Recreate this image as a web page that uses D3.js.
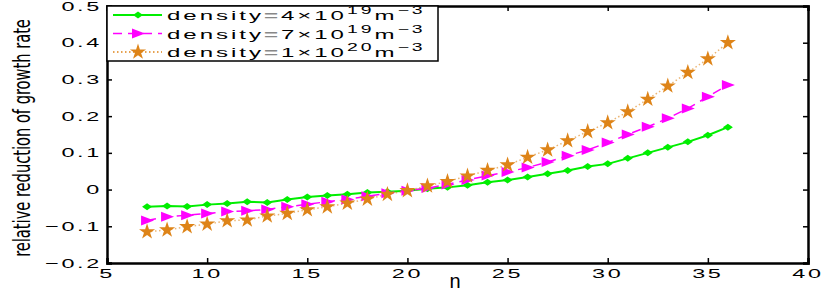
<!DOCTYPE html>
<html>
<head>
<meta charset="utf-8">
<script src="https://cdnjs.cloudflare.com/ajax/libs/d3/7.8.5/d3.min.js"></script>
<style>
	body { margin: 0; background: #fff; }
	svg text { font-family: "Liberation Sans", Arial, sans-serif; }
</style>
</head>
<body>
<svg id="svg_chart" width="831" height="291"></svg>
<script>
// n values (mode number)
var arr_n = [7, 8, 9, 10, 11, 12, 13, 14, 15, 16, 17, 18, 19, 20, 21,
	22, 23, 24, 25, 26, 27, 28, 29, 30, 31, 32, 33, 34, 35, 36];

// density = 4e19
var arr_d4e19 = [-0.047, -0.045, -0.046, -0.041, -0.038, -0.033, -0.035, -0.027,
	-0.020, -0.016, -0.013, -0.008, -0.006, -0.003, 0.002, 0.006,
	0.012, 0.020, 0.026, 0.034, 0.043, 0.052, 0.063, 0.070,
	0.085, 0.100, 0.115, 0.130, 0.148, 0.170];

// density = 7e19
var arr_d7e19 = [-0.084, -0.074, -0.070, -0.065, -0.060, -0.058, -0.054, -0.047,
	-0.040, -0.033, -0.027, -0.018, -0.010, -0.003, 0.004, 0.014,
	0.026, 0.038, 0.048, 0.060, 0.075, 0.092, 0.108, 0.128,
	0.150, 0.171, 0.194, 0.221, 0.253, 0.285];

// density = 1e20
var arr_d1e20 = [-0.115, -0.110, -0.101, -0.094, -0.085, -0.083, -0.072, -0.065,
	-0.055, -0.047, -0.037, -0.026, -0.013, -0.003, 0.010, 0.022,
	0.037, 0.052, 0.067, 0.088, 0.108, 0.133, 0.158, 0.182,
	0.212, 0.246, 0.282, 0.319, 0.356, 0.400];

var arr_x_ticks = [5, 10, 15, 20, 25, 30, 35, 40];
var arr_y_ticks = [-0.2, -0.1, 0, 0.1, 0.2, 0.3, 0.4, 0.5];

var arr_legend_mant = ["4", "7", "1"];
var arr_legend_exp = ["19", "19", "20"];


var margin = {top: 6, right: 23, bottom: 28, left: 107};
var width = 831 - margin.left - margin.right;
var height = 291 - margin.top - margin.bottom;

var x_scale = d3.scaleLinear().domain([5, 40]).range([0, width]);
var y_scale = d3.scaleLinear().domain([-0.2, 0.5]).range([height, 0]);

var svg = d3.select("svg#svg_chart");

var g = svg.append("g")
	.attr("transform", "translate(" + margin.left + "," + margin.top + ")");

// stretched label text, like the original export
function fn_wide_text(sel, sx) {
	sel.attr("transform", function() {
		var t = d3.select(this);
		return "translate(" + t.attr("data-x") + "," + t.attr("data-y") + ") scale(" + sx + ",1)";
	});
}

// ====================================================
// series
var arr_series = [
	{name: "d4", values: arr_d4e19, color: "#00ee00", dash: null, width: 2, marker: "diamond"},
	{name: "d7", values: arr_d7e19, color: "#ff00ff", dash: "9,6", width: 1.5, marker: "triangle"},
	{name: "d1", values: arr_d1e20, color: "#de8418", dash: "1.5,2.5", width: 1.5, marker: "star"}
];

var line = d3.line()
	.x(function(d, i) { return x_scale(arr_n[i]); })
	.y(function(d) { return y_scale(d); });

function fn_marker_path(type) {
	if (type == "diamond") return "M-5,0L0,-3.5L5,0L0,3.5Z";
	if (type == "triangle") return "M7,0L-6,-5L-6,5Z";
	return d3.symbol().type(d3.symbolStar).size(80)();
}

arr_series.forEach(function(s) {
	g.append("path")
		.datum(s.values)
		.attr("fill", "none")
		.attr("stroke", s.color)
		.attr("stroke-width", s.width)
		.attr("stroke-dasharray", s.dash)
		.attr("opacity", s.marker == "star" ? 0.6 : 1)
		.attr("d", line);

	g.selectAll(".mk-" + s.name)
		.data(s.values)
		.enter().append("path")
		.attr("class", "mk-" + s.name)
		.attr("fill", s.color)
		.attr("transform", function(d, i) {
			return "translate(" + x_scale(arr_n[i]) + "," + y_scale(d) + ")";
		})
		.attr("d", fn_marker_path(s.marker));
});

// ====================================================
// axes box, inward ticks on all sides
var tick_len = 5;

g.append("g")
	.call(d3.axisBottom(x_scale).tickValues(arr_x_ticks).tickSize(-tick_len).tickFormat(""))
	.attr("transform", "translate(0," + height + ")");
g.append("g")
	.call(d3.axisTop(x_scale).tickValues(arr_x_ticks).tickSize(-tick_len).tickFormat(""));
g.append("g")
	.call(d3.axisLeft(y_scale).tickValues(arr_y_ticks).tickSize(-tick_len).tickFormat(""));
g.append("g")
	.call(d3.axisRight(y_scale).tickValues(arr_y_ticks).tickSize(-tick_len).tickFormat(""))
	.attr("transform", "translate(" + width + ",0)");

g.selectAll(".domain").attr("stroke", "#000").attr("stroke-width", 2.5);
g.selectAll(".tick line").attr("stroke", "#000").attr("stroke-width", 1.5);

// tick labels
g.selectAll(".xlab")
	.data(arr_x_ticks)
	.enter().append("text")
	.attr("class", "xlab")
	.attr("data-x", function(d) { return x_scale(d); })
	.attr("data-y", height + 14.5)
	.attr("text-anchor", "middle")
	.attr("font-size", 13)
	.attr("letter-spacing", 1.5)
	.text(function(d) { return d; })
	.call(fn_wide_text, 1.8);

g.selectAll(".ylab")
	.data(arr_y_ticks)
	.enter().append("text")
	.attr("class", "ylab")
	.attr("data-x", -5)
	.attr("data-y", function(d) { return y_scale(d) + 4.6; })
	.attr("text-anchor", "end")
	.attr("font-size", 13)
	.attr("letter-spacing", 1.5)
	.text(function(d) { return d == 0 ? "0" : d3.format(".1f")(d).replace("-", "\u2212"); })
	.call(fn_wide_text, 1.8);

// axis titles
svg.append("text")
	.attr("x", 455)
	.attr("y", 288)
	.attr("text-anchor", "middle")
	.attr("font-size", 20)
	.text("n");

// y title: condensed, squeezed to the 238px the original uses
var y_title = svg.append("text")
	.attr("text-anchor", "middle")
	.attr("font-size", 23)
	.style("font-family", "'DejaVu Sans Condensed', 'Liberation Sans Narrow', sans-serif")
	.text("relative reduction of growth rate");
var y_title_len = y_title.node().getComputedTextLength();
y_title.attr("transform", "translate(30,138) rotate(-90) scale(" + (238 / y_title_len) + ",1)");

// ====================================================
// legend
var legend = g.append("g").attr("class", "legend");

legend.append("rect")
	.attr("x", 0)
	.attr("y", 0)
	.attr("width", 331)
	.attr("height", 55)
	.attr("fill", "#fff")
	.attr("stroke", "#000")
	.attr("stroke-width", 1.5);

var leg_rows = legend.selectAll(".leg-row")
	.data(arr_series)
	.enter().append("g")
	.attr("class", "leg-row")
	.attr("transform", function(d, i) { return "translate(0," + (9 + i * 18.5) + ")"; });

leg_rows.append("line")
	.attr("x1", 6).attr("x2", 55)
	.attr("stroke", function(d) { return d.color; })
	.attr("stroke-width", function(d) { return d.width; })
	.attr("stroke-dasharray", function(d) { return d.dash; });

leg_rows.append("path")
	.attr("transform", "translate(31,0)")
	.attr("fill", function(d) { return d.color; })
	.attr("d", function(d) { return fn_marker_path(d.marker); });

var leg_text = leg_rows.append("text")
	.attr("data-x", 60)
	.attr("data-y", 5)
	.attr("font-size", 13)
	.attr("letter-spacing", 1.6)
	.call(fn_wide_text, 1.85);

leg_text.append("tspan").text("density");
leg_text.append("tspan").attr("fill", "#888").attr("font-weight", "bold").text("=");
leg_text.append("tspan").text(function(d, i) { return arr_legend_mant[i] + "\u00d710"; });
leg_text.append("tspan").attr("font-size", 10.5).attr("dy", -6).text(function(d, i) { return arr_legend_exp[i]; });
leg_text.append("tspan").attr("font-size", 13).attr("dy", 6).text("m");
leg_text.append("tspan").attr("font-size", 10.5).attr("dy", -6).text("\u22123");
</script>
</body>
</html>
